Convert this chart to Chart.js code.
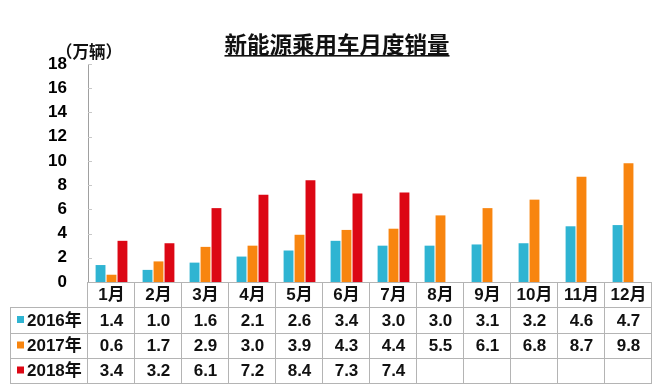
<!DOCTYPE html>
<html>
<head>
<meta charset="utf-8">
<script src="https://cdn.jsdelivr.net/npm/chart.js@4"></script>
<style>
  html, body { margin: 0; padding: 0; background: #fff; }
  #wrap { width: 660px; height: 390px; }
</style>
</head>
<body>
<div id="wrap"><canvas id="salesChart" width="660" height="390"></canvas></div>
<script>
// data
var months = ["1月", "2月", "3月", "4月", "5月", "6月", "7月", "8月", "9月", "10月", "11月", "12月"];
var years = ["2016年", "2017年", "2018年"];
var sales2016 = [1.4, 1.0, 1.6, 2.1, 2.6, 3.4, 3.0, 3.0, 3.1, 3.2, 4.6, 4.7];
var sales2017 = [0.6, 1.7, 2.9, 3.0, 3.9, 4.3, 4.4, 5.5, 6.1, 6.8, 8.7, 9.8];
var sales2018 = [3.4, 3.2, 6.1, 7.2, 8.4, 7.3, 7.4, null, null, null, null, null];
var yTicks = [0, 2, 4, 6, 8, 10, 12, 14, 16, 18];
var chartTitle = "新能源乘用车月度销量";
var unitLabel = "（万辆）";

var colors = ["#2fb4d2", "#f8850f", "#dc0714"];
var fontFamily = "'Liberation Sans', Arial, 'Noto Sans CJK SC', sans-serif";
var lineColor = "#b4b4b4";

// table under the bars + title + unit label
var tablePlugin = {
    id: "dataTable",
    afterDraw: function(chart) {
        var ctx = chart.ctx;
        var x = chart.scales.x;
        var y = chart.scales.y;
        var area = chart.chartArea;
        var colW = (area.right - area.left) / months.length;
        var rows = [area.bottom, 307, 333, 358, 383];
        var tableLeft = 10;
        var series = [sales2016, sales2017, sales2018];

        ctx.save();

        // small tick marks inside the y axis
        ctx.strokeStyle = "#c8c8c8";
        ctx.lineWidth = 1;
        yTicks.forEach(function(t) {
            var py = Math.round(y.getPixelForValue(t)) + 0.5;
            ctx.beginPath();
            ctx.moveTo(area.left, py);
            ctx.lineTo(area.left + 4, py);
            ctx.stroke();
        });

        // table lines
        ctx.strokeStyle = lineColor;
        ctx.beginPath();
        ctx.moveTo(area.left, rows[0] + 0.5);
        ctx.lineTo(area.right, rows[0] + 0.5);
        for (var r = 1; r < rows.length; r++) {
            ctx.moveTo(tableLeft, rows[r] + 0.5);
            ctx.lineTo(area.right, rows[r] + 0.5);
        }
        ctx.moveTo(tableLeft + 0.5, rows[1]);
        ctx.lineTo(tableLeft + 0.5, rows[4]);
        for (var c = 0; c <= months.length; c++) {
            var cx = Math.round(area.left + c * colW) - 0.5;
            ctx.moveTo(cx, rows[0]);
            ctx.lineTo(cx, rows[4]);
        }
        ctx.stroke();

        // header row
        ctx.fillStyle = "#111";
        ctx.font = "bold 17px " + fontFamily;
        ctx.textAlign = "center";
        ctx.textBaseline = "middle";
        months.forEach(function(m, i) {
            ctx.fillText(m, x.getPixelForValue(i), (rows[0] + rows[1]) / 2 + 1);
        });

        // year rows
        series.forEach(function(vals, s) {
            var cy = (rows[s + 1] + rows[s + 2]) / 2 + 1;
            ctx.fillStyle = colors[s];
            ctx.fillRect(17, cy - 5, 7, 7);
            ctx.fillStyle = "#111";
            ctx.textAlign = "left";
            ctx.fillText(years[s], 27, cy);
            ctx.textAlign = "center";
            vals.forEach(function(v, i) {
                if (v === null) return;
                ctx.fillText(v.toFixed(1), x.getPixelForValue(i), cy);
            });
        });

        // title, underlined
        ctx.font = "bold 22.5px 'Noto Sans CJK SC', sans-serif";
        ctx.textAlign = "center";
        ctx.textBaseline = "middle";
        ctx.fillText(chartTitle, 337, 44);
        var tw = ctx.measureText(chartTitle).width;
        ctx.fillRect(337 - tw / 2, 55, tw, 1.6);

        // unit label
        ctx.font = "bold 16.5px 'Noto Sans CJK SC', sans-serif";
        ctx.textAlign = "left";
        ctx.fillText(unitLabel, 56, 52);

        ctx.restore();
    }
};

var ctx = document.getElementById("salesChart").getContext("2d");
var salesChart = new Chart(ctx, {
    type: "bar",
    data: {
        labels: months,
        datasets: [
            { label: years[0], data: sales2016, backgroundColor: colors[0] },
            { label: years[1], data: sales2017, backgroundColor: colors[1] },
            { label: years[2], data: sales2018, backgroundColor: colors[2] }
        ]
    },
    options: {
        responsive: false,
        animation: false,
        layout: { padding: { left: 0, right: 8, top: 64, bottom: 108 } },
        datasets: { bar: { categoryPercentage: 0.7, barPercentage: 0.9 } },
        plugins: {
            legend: { display: false },
            title: { display: false },
            tooltip: { enabled: false }
        },
        scales: {
            x: { display: false },
            y: {
                min: 0,
                max: 18,
                afterFit: function(scale) { scale.width = 88; },
                grid: { display: false },
                border: { display: true, color: "#a0a0a0", width: 1 },
                ticks: {
                    stepSize: 2,
                    padding: 13,
                    color: "#000",
                    font: { family: fontFamily, size: 17, weight: "bold" }
                }
            }
        }
    },
    plugins: [tablePlugin]
});
</script>
</body>
</html>
